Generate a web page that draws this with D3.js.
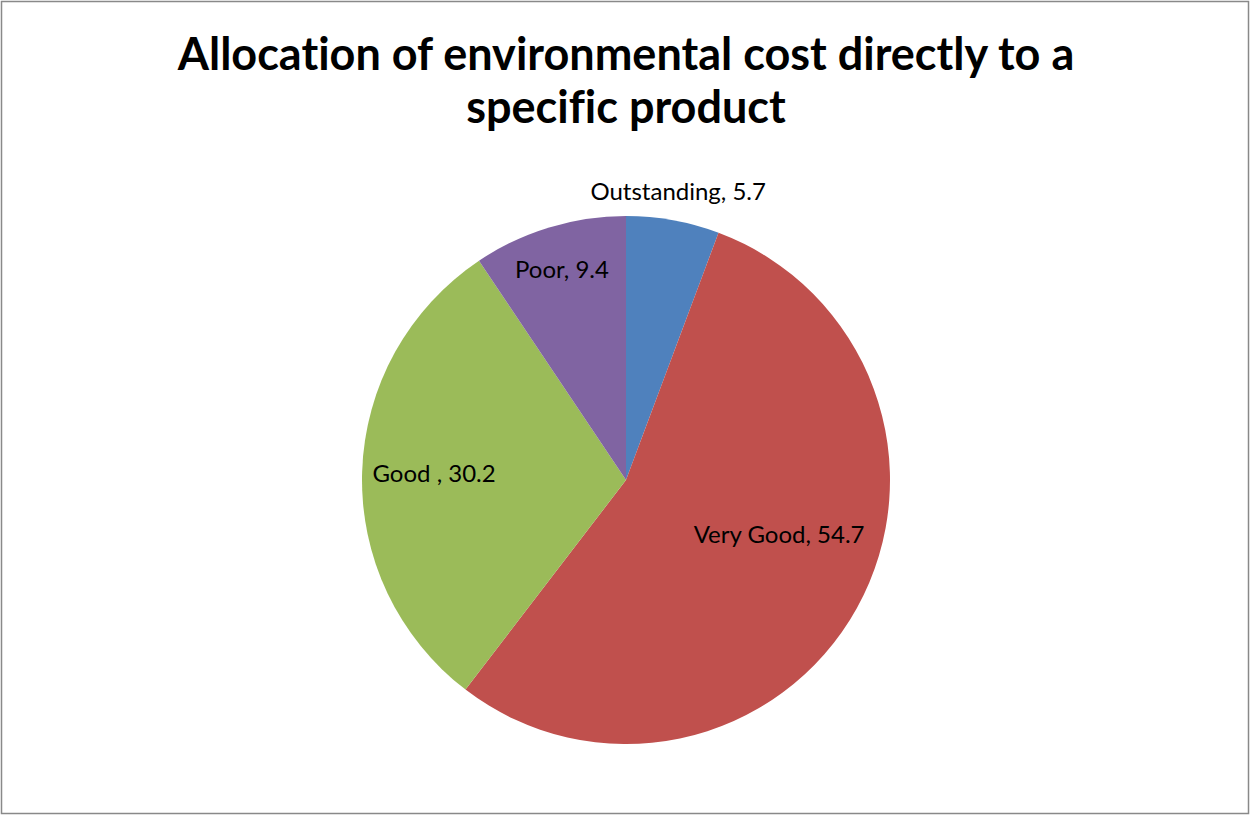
<!DOCTYPE html>
<html>
<head>
<meta charset="utf-8">
<script src="https://cdn.jsdelivr.net/npm/d3@7"></script>
<style>
  html, body { margin: 0; padding: 0; background: #fff; }
  svg { display: block; }
  text { font-variant-ligatures: none; font-feature-settings: "liga" 0; }
</style>
</head>
<body>
<svg id="chart" width="1251" height="815"></svg>
<script>
const titleLines = ["Allocation of environmental cost directly to a", "specific product"];
const categories = ["Outstanding", "Very Good", "Good ", "Poor"];
const values = [5.7, 54.7, 30.2, 9.4];
const colors = ["#4F81BD", "#C0504D", "#9BBB59", "#8064A2"];

// label placement (radius from centre, vertical nudge) – layout only
const labelRadius = [293, 175, 192, 220];
const labelNudge = [0, -30, 0, 0];

const W = 1251, H = 815;
const cx = 626, cy = 480, R = 264;

const svg = d3.select("#chart");
svg.append("rect")
  .attr("x", 1.5).attr("y", 1.5)
  .attr("width", W - 4).attr("height", H - 3)
  .attr("fill", "#fff").attr("stroke", "#898989").attr("stroke-width", 1.5);

svg.append("text")
  .attr("x", cx).attr("text-anchor", "middle")
  .attr("font-family", "Lato, 'Open Sans', sans-serif")
  .attr("font-weight", "bold").attr("font-size", 45)
  .attr("fill", "#000")
  .selectAll("tspan").data(titleLines).join("tspan")
  .attr("x", cx).attr("y", (d, i) => 70 + i * 53)
  .text(d => d);

const data = categories.map((c, i) => ({ name: c, value: values[i], color: colors[i], i }));
const pie = d3.pie().value(d => d.value).sort(null);
const arcs = pie(data);
const arc = d3.arc().innerRadius(0).outerRadius(R);

const g = svg.append("g").attr("transform", `translate(${cx},${cy})`);
g.selectAll("path").data(arcs).join("path")
  .attr("d", arc)
  .attr("fill", d => d.data.color);

g.selectAll("text").data(arcs).join("text")
  .attr("transform", d => {
    const a = (d.startAngle + d.endAngle) / 2;
    const r = labelRadius[d.data.i];
    return `translate(${r * Math.sin(a)},${-r * Math.cos(a) + labelNudge[d.data.i]})`;
  })
  .attr("text-anchor", "middle")
  .attr("dy", "0.35em")
  .attr("font-family", "Lato, 'Open Sans', sans-serif")
  .attr("font-size", 24)
  .attr("fill", "#000")
  .text(d => `${d.data.name}, ${d.data.value}`);
</script>
</body>
</html>
